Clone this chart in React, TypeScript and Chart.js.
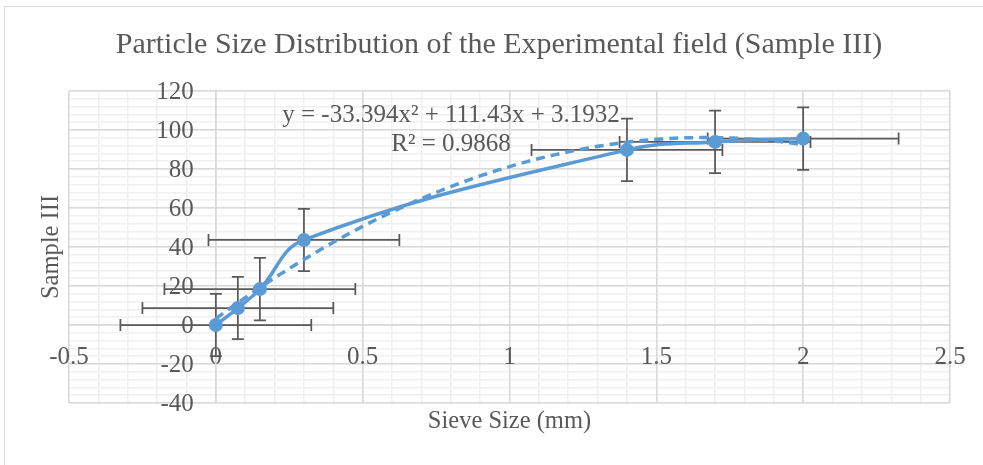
import { useEffect, useRef } from "react";
import { Chart, registerables } from "chart.js";

Chart.register(...registerables);

// Sieve sizes (mm) and measured Sample III values
const sieveSizeMm = [0, 0.075, 0.15, 0.3, 1.4, 1.7, 2];
const sampleIII = [0, 8.7, 18.4, 43.6, 89.8, 93.9, 95.6];

// Error bar half-widths for each point
const xErrorMm = [0.325, 0.325, 0.325, 0.325, 0.325, 0.325, 0.325];
const yError = [16, 16, 16, 16, 16, 16, 16];

// Polynomial (order 2) trendline: y = a x² + b x + c
const trendA = -33.394;
const trendB = 111.43;
const trendC = 3.1932;
const trendR2 = "0.9868";

// Axis ranges and steps
const xRange = [-0.5, 2.5];
const yRange = [-40, 120];
const xMajorStep = 0.5;
const xMinorStep = 0.1;
const yMajorStep = 20;
const yMinorStep = 4;

const chartTitle = "Particle Size Distribution of the Experimental field (Sample III)";
const xTitle = "Sieve Size (mm)";
const yTitle = "Sample III";

const SERIF = "'Liberation Serif', 'Times New Roman', serif";
const TEXT = "#595959";
const BLUE = "#5B9BD5";
const MAJOR_GRID = "#d9d9d9";
const MINOR_GRID = "#f0f0f0";

const trendXs: number[] = [];
for (let i = 0; i <= 100; i++) trendXs.push((sieveSizeMm[sieveSizeMm.length - 1] * i) / 100);
const trendPoints = trendXs.map((x) => ({ x, y: trendA * x * x + trendB * x + trendC }));

const fmt = (n: number) => String(n);

// Value labels of the vertical axis (left of the axis line at x = 0) and error bars
const underlay = {
  id: "underlay",
  beforeDatasetsDraw(chart: any) {
    const { ctx, scales } = chart;
    const xs = scales.x;
    const ys = scales.y;

    ctx.save();
    ctx.fillStyle = TEXT;
    ctx.font = `25px ${SERIF}`;
    ctx.textAlign = "right";
    ctx.textBaseline = "middle";
    const axisX = xs.getPixelForValue(0);
    ys.ticks.forEach((t: any) => {
      ctx.fillText(fmt(t.value), axisX - 22, ys.getPixelForValue(t.value) + 1);
    });
    ctx.restore();

    const cap = 6;
    ctx.save();
    ctx.strokeStyle = "#595959";
    ctx.lineWidth = 1.75;
    sieveSizeMm.forEach((xv, i) => {
      const yv = sampleIII[i];
      const px = xs.getPixelForValue(xv);
      const py = ys.getPixelForValue(yv);
      const xl = xs.getPixelForValue(xv - xErrorMm[i]);
      const xr = xs.getPixelForValue(xv + xErrorMm[i]);
      const yt = ys.getPixelForValue(yv + yError[i]);
      const yb = ys.getPixelForValue(yv - yError[i]);
      ctx.beginPath();
      ctx.moveTo(xl, py);
      ctx.lineTo(xr, py);
      ctx.moveTo(xl, py - cap);
      ctx.lineTo(xl, py + cap);
      ctx.moveTo(xr, py - cap);
      ctx.lineTo(xr, py + cap);
      ctx.moveTo(px, yt);
      ctx.lineTo(px, yb);
      ctx.moveTo(px - cap, yt);
      ctx.lineTo(px + cap, yt);
      ctx.moveTo(px - cap, yb);
      ctx.lineTo(px + cap, yb);
      ctx.stroke();
    });
    ctx.restore();
  },
};

const textLayer = {
  id: "textLayer",
  afterDraw(chart: any) {
    const { ctx, chartArea } = chart;
    ctx.save();
    ctx.fillStyle = TEXT;
    ctx.textAlign = "center";
    ctx.textBaseline = "alphabetic";

    ctx.font = `30px ${SERIF}`;
    ctx.fillText(chartTitle, 499, 53);

    ctx.font = `24.5px ${SERIF}`;
    ctx.fillText(xTitle, (chartArea.left + chartArea.right) / 2, 428);

    ctx.save();
    ctx.translate(58, (chartArea.top + chartArea.bottom) / 2);
    ctx.rotate(-Math.PI / 2);
    ctx.fillText(yTitle, 0, 0);
    ctx.restore();

    // trendline equation and R²
    ctx.font = `25px ${SERIF}`;
    const eq = `y = ${fmt(trendA)}x² + ${fmt(trendB)}x + ${fmt(trendC)}`;
    ctx.fillText(eq, 451, 122);
    ctx.fillText(`R² = ${trendR2}`, 451, 151);
    ctx.restore();
  },
};

export default function App() {
  const canvasRef = useRef<HTMLCanvasElement | null>(null);

  useEffect(() => {
    const canvas = canvasRef.current;
    if (!canvas) return;

    const chart = new Chart(canvas, {
      type: "scatter",
      data: {
        datasets: [
          {
            label: "Sample III",
            data: sieveSizeMm.map((x, i) => ({ x, y: sampleIII[i] })),
            showLine: true,
            tension: 0.4,
            borderColor: BLUE,
            backgroundColor: BLUE,
            borderWidth: 3.5,
            pointRadius: 7,
            pointHoverRadius: 7,
            pointBorderWidth: 0,
            order: 0,
          },
          {
            label: "Poly. (Sample III)",
            data: trendPoints,
            showLine: true,
            borderColor: BLUE,
            borderWidth: 3.5,
            borderDash: [9, 6],
            pointRadius: 0,
            tension: 0,
            order: 1,
          },
        ],
      },
      options: {
        responsive: false,
        animation: false,
        layout: { padding: { left: 69, right: 33, top: 91, bottom: 62 } },
        plugins: {
          legend: { display: false },
          title: { display: false },
          tooltip: { enabled: false },
        },
        scales: {
          xMinor: {
            type: "linear",
            axis: "x",
            position: { y: 0 },
            min: xRange[0],
            max: xRange[1],
            ticks: { display: false, stepSize: xMinorStep },
            grid: { color: MINOR_GRID, lineWidth: 1.5, drawTicks: false, z: -2 },
            border: { display: false },
          },
          yMinor: {
            type: "linear",
            axis: "y",
            position: { x: 0 },
            min: yRange[0],
            max: yRange[1],
            ticks: { display: false, stepSize: yMinorStep },
            grid: { color: MINOR_GRID, lineWidth: 1.5, drawTicks: false, z: -2 },
            border: { display: false },
          },
          x: {
            type: "linear",
            position: { y: 0 },
            min: xRange[0],
            max: xRange[1],
            ticks: {
              stepSize: xMajorStep,
              autoSkip: false,
              maxRotation: 0,
              padding: 17,
              color: TEXT,
              font: { family: SERIF, size: 25 },
              callback: (v: any) => fmt(Number(v)),
            },
            grid: { color: MAJOR_GRID, lineWidth: 1.5, drawTicks: false, z: -1 },
            border: { display: true, color: MAJOR_GRID, width: 1.5 },
          },
          y: {
            type: "linear",
            position: { x: 0 },
            min: yRange[0],
            max: yRange[1],
            ticks: { display: false, stepSize: yMajorStep },
            grid: { color: MAJOR_GRID, lineWidth: 1.5, drawTicks: false, z: -1 },
            border: { display: true, color: MAJOR_GRID, width: 1.5 },
          },
        },
      } as any,
      plugins: [underlay, textLayer],
    });
    return () => chart.destroy();
  }, []);

  return (
    <div style={{ position: "absolute", left: 0, top: 0, width: 983, height: 465, background: "#fff", overflow: "hidden" }}>
      <div
        style={{
          position: "absolute",
          left: 4,
          top: 6,
          width: 1000,
          height: 500,
          border: "1px solid #d9d9d9",
          boxSizing: "border-box",
        }}
      />
      <canvas ref={canvasRef} width={983} height={465} style={{ position: "absolute", left: 0, top: 0 }} />
    </div>
  );
}
